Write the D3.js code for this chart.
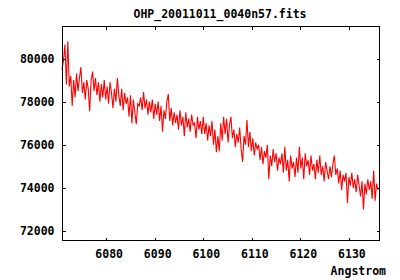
<!DOCTYPE html>
<html>
<head>
<meta charset="utf-8">
<script src="https://cdnjs.cloudflare.com/ajax/libs/d3/7.8.5/d3.min.js"></script>
<style>
  body { margin: 0; background: #fff; }
  svg text { font-family: "DejaVu Sans Mono", monospace; font-weight: bold; font-size: 11.5px; fill: #000; }
</style>
</head>
<body>
<svg id="spec" width="400" height="280"></svg>
<script>
// Spectrum header values (start wavelength and step, like CRVAL1 / CDELT1)
var crval = 6070.9;
var cdelt = 0.3;

// Flux values
var flux = [
  79500, 79900, 80650, 78800, 80800, 78700,
  79200, 77800, 79000, 78200, 79300, 78500, 79100,
  79600, 78400, 78900, 78100, 79000, 78600, 77550, 79000,
  79400, 78500, 79100, 78300, 78900, 78000, 78800,
  78200, 79000, 78100, 78700, 77900, 78900, 78400, 77700, 78600, 78000, 79100, 78300, 77800,
  78600, 77600, 78400, 77900, 78200, 77300, 78300, 77000, 78100, 77500, 76950, 77900,
  77800, 78200, 77600, 78450, 77700, 78100, 77400, 78000,
  77500, 78100, 77200, 77900, 77400, 78000, 77100, 77800, 76600, 77600, 77200, 78000,
  78350, 77100, 77700, 76900, 77500, 77000,
  77400, 76700, 77600, 76900, 77300, 76400, 77500, 76800, 77200, 76600, 77400, 76900, 77000, 76300, 77300, 76700, 77100, 76500,
  77300, 76500, 77000, 76200, 76900, 76400, 77100, 76000, 76700, 75650,
  76400, 75700, 77000, 76200, 77300, 76500, 77200, 76100, 76900,
  77300, 76300, 76700, 75900, 76500, 76100, 76800, 75800, 75200, 76400, 76000,
  77150, 75900, 76600, 75700, 76300, 75500, 76100, 75800,
  76000, 75300, 75900, 75100, 75700, 75400, 76000, 74400, 75500, 75000, 75800, 75200, 75600, 74800, 75400, 75100,
  75600, 74700, 75900, 74800, 75300, 74300, 75500, 74900, 75200, 74500, 75400, 74700,
  75900, 74900, 75400, 74400, 75600, 75000, 75300, 74600, 75500, 74800, 75100, 74400, 75300, 74700,
  75500, 74600, 75000, 74300, 75200, 74800, 74400, 75000, 74500, 75100,
  75500, 74600,
  74900, 74200, 74800, 73900, 74600, 74300, 74700, 73300, 74500, 74100, 74700, 74000,
  74400, 73800, 74600, 74100, 73600, 74300, 73000, 74200, 73700, 74400, 73900, 74300, 73500, 74800, 73400, 74200, 73900
];

// Axis ticks
var xTicks = [6080, 6090, 6100, 6110, 6120, 6130];
var yTicks = [72000, 74000, 76000, 78000, 80000];

var title = "OHP_20011011_0040n57.fits";
var xLabel = "Angstrom";

var data = flux.map(function(f, i) {
  return { wave: crval + i * cdelt, flux: f };
});

// Plot frame (window.top is reserved, so use other names)
var pLeft = 62, pRight = 379, pTop = 26, pBottom = 240;

var x = d3.scaleLinear()
    .domain([6070.9, 6136.2])
    .range([pLeft, pRight]);

var y = d3.scaleLinear()
    .domain([71580, 81510])
    .range([pBottom, pTop]);

var svg = d3.select("svg#spec");

svg.append("text")
    .attr("x", 220)
    .attr("y", 18.3)
    .attr("text-anchor", "middle")
    .text(title);

// the spectrum
var line = d3.line()
    .x(function(d) { return x(d.wave); })
    .y(function(d) { return y(d.flux); });

svg.append("path")
    .datum(data)
    .attr("fill", "none")
    .attr("stroke", "#ff0000")
    .attr("stroke-width", 1.1)
    .attr("d", line);

// axes, ticks point inwards on all four sides
var tickLen = -3;

svg.append("g")
    .attr("transform", "translate(0," + (pBottom + 0.5) + ")")
    .call(d3.axisBottom(x).tickValues(xTicks).tickSize(tickLen).tickFormat(""));

svg.append("g")
    .attr("transform", "translate(0," + (pTop + 0.5) + ")")
    .call(d3.axisTop(x).tickValues(xTicks).tickSize(tickLen).tickFormat(""));

svg.append("g")
    .attr("transform", "translate(" + (pLeft + 0.5) + ",0)")
    .call(d3.axisLeft(y).tickValues(yTicks).tickSize(tickLen).tickFormat(""));

svg.append("g")
    .attr("transform", "translate(" + (pRight + 0.5) + ",0)")
    .call(d3.axisRight(y).tickValues(yTicks).tickSize(tickLen).tickFormat(""));

svg.selectAll(".domain").remove();
svg.selectAll(".tick line")
    .attr("stroke", "#000")
    .attr("shape-rendering", "crispEdges");

svg.append("rect")
    .attr("x", pLeft + 0.5)
    .attr("y", pTop + 0.5)
    .attr("width", pRight - pLeft)
    .attr("height", pBottom - pTop)
    .attr("fill", "none")
    .attr("stroke", "#000")
    .attr("shape-rendering", "crispEdges");

// tick labels
svg.selectAll(".xlab")
    .data(xTicks)
  .enter().append("text")
    .attr("class", "xlab")
    .attr("x", function(d) { return x(d) + 3; })
    .attr("y", 257.5)
    .attr("text-anchor", "middle")
    .text(function(d) { return d; });

svg.selectAll(".ylab")
    .data(yTicks)
  .enter().append("text")
    .attr("class", "ylab")
    .attr("x", 54.5)
    .attr("y", function(d) { return y(d) + 4; })
    .attr("text-anchor", "end")
    .text(function(d) { return d; });

svg.append("text")
    .attr("x", 386)
    .attr("y", 275)
    .attr("text-anchor", "end")
    .text(xLabel);
</script>
</body>
</html>
